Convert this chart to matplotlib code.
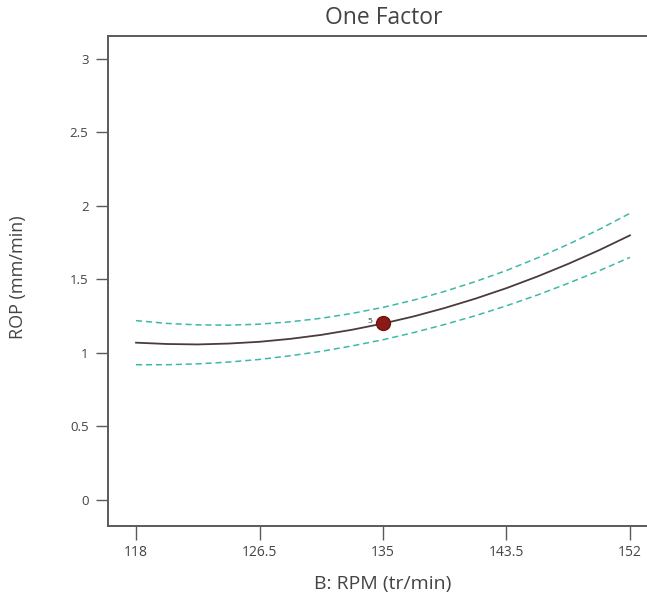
import matplotlib.pyplot as plt
import numpy as np

plt.rcParams['font.family'] = ['Open Sans', 'DejaVu Sans']

# B: RPM values where the curve was read
rpm = [118, 120.125, 122.25, 124.375, 126.5, 128.625, 130.75, 132.875, 135,
       137.125, 139.25, 141.375, 143.5, 145.625, 147.75, 149.875, 152]
rop_mean = [1.070, 1.061, 1.058, 1.064, 1.076, 1.096, 1.123, 1.158, 1.200,
            1.249, 1.306, 1.370, 1.441, 1.520, 1.606, 1.699, 1.800]
rop_upper = [1.220, 1.201, 1.191, 1.189, 1.196, 1.212, 1.236, 1.269, 1.310,
             1.360, 1.419, 1.486, 1.561, 1.646, 1.739, 1.840, 1.950]
rop_lower = [0.920, 0.920, 0.926, 0.938, 0.956, 0.981, 1.011, 1.048, 1.090,
             1.139, 1.194, 1.254, 1.321, 1.394, 1.474, 1.559, 1.650]

design_x = [135]
design_y = [1.205]
design_label = "5"

xticks = [118, 126.5, 135, 143.5, 152]
xtick_labels = ["118", "126.5", "135", "143.5", "152"]
yticks = [0, 0.5, 1, 1.5, 2, 2.5, 3]
ytick_labels = ["0", "0.5", "1", "1.5", "2", "2.5", "3"]

text_col = "#444444"

fig = plt.figure(figsize=(6.47, 6.01), dpi=100)
ax = fig.add_axes([108 / 647, 75 / 601, 550 / 647, 490 / 601])

ax.plot(rpm, rop_upper, color="#3fb8a6", lw=1.1, ls=(0, (4, 2.5)))
ax.plot(rpm, rop_lower, color="#3fb8a6", lw=1.1, ls=(0, (4, 2.5)))
ax.plot(rpm, rop_mean, color="#4a3c3c", lw=1.3)
ax.plot(design_x, design_y, "o", color="#8b1a16", markersize=10, mec="#6e1410", zorder=5)
ax.text(design_x[0] - 0.75, design_y[0] + 0.01, design_label, fontsize=6,
        color="#333333", ha="right", va="center")

ax.set_xlim(116.07, 153.93)
ax.set_ylim(-0.177, 3.156)
ax.set_xticks(xticks)
ax.set_xticklabels(xtick_labels)
ax.set_yticks(yticks)
ax.set_yticklabels(ytick_labels)

for side in ["left", "top", "bottom"]:
    ax.spines[side].set_color("#5a5a5a")
    ax.spines[side].set_linewidth(1.4)
ax.spines["right"].set_visible(False)

ax.tick_params(axis="both", direction="out", width=1.0, color="#5a5a5a",
               labelcolor=text_col)
ax.tick_params(axis="x", length=10, pad=4, labelsize=10)
ax.tick_params(axis="y", length=9, pad=5, labelsize=9.5)

ax.set_xlabel("B: RPM (tr/min)", fontsize=14, color=text_col)
ax.set_ylabel("ROP (mm/min)", fontsize=13, color=text_col)
ax.xaxis.set_label_coords((383 - 108) / 550, (526 - 575) / 490)
ax.yaxis.set_label_coords((27 - 108) / 550, (526 - 277) / 490)
fig.text(384 / 647, 1 - 18 / 601, "One Factor", fontsize=16.5, color=text_col,
         ha="center", va="center")

fig.savefig("out.png", dpi=100)
